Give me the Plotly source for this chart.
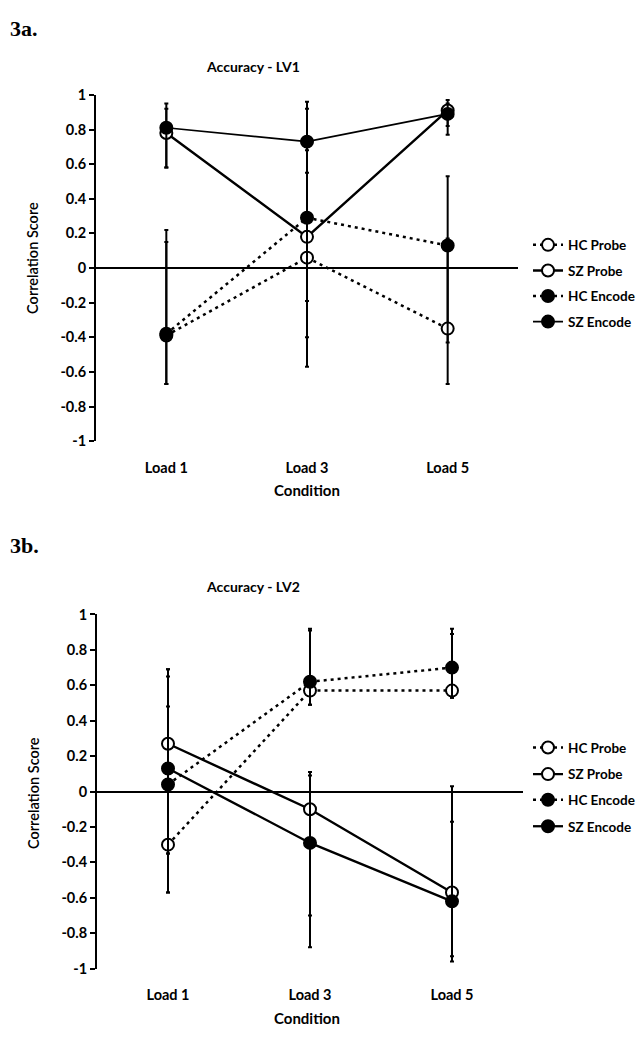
import plotly.graph_objects as go

W, H = 643, 1044

conditions = ["Load 1", "Load 3", "Load 5"]
series_names = ["HC Probe", "SZ Probe", "HC Encode", "SZ Encode"]

# Panel 3a: Accuracy - LV1
lv1_values = {
    "HC Probe":  [-0.39, 0.06, -0.35],
    "SZ Probe":  [0.78, 0.18, 0.91],
    "HC Encode": [-0.38, 0.29, 0.13],
    "SZ Encode": [0.81, 0.73, 0.89],
}
lv1_upper = {
    "HC Probe":  [0.15, 0.09, 0.17],
    "SZ Probe":  [0.92, 0.68, 0.97],
    "HC Encode": [0.22, 0.92, 0.53],
    "SZ Encode": [0.95, 0.96, 0.95],
}
lv1_lower = {
    "HC Probe":  [-0.67, -0.19, -0.43],
    "SZ Probe":  [0.58, -0.40, 0.82],
    "HC Encode": [-0.67, -0.57, -0.67],
    "SZ Encode": [0.58, 0.55, 0.77],
}

# Panel 3b: Accuracy - LV2
lv2_values = {
    "HC Probe":  [-0.30, 0.57, 0.57],
    "SZ Probe":  [0.27, -0.10, -0.57],
    "HC Encode": [0.04, 0.62, 0.70],
    "SZ Encode": [0.13, -0.29, -0.62],
}
lv2_upper = {
    "HC Probe":  [0.48, 0.91, 0.89],
    "SZ Probe":  [0.69, 0.11, 0.03],
    "HC Encode": [0.69, 0.92, 0.92],
    "SZ Encode": [0.65, 0.09, -0.17],
}
lv2_lower = {
    "HC Probe":  [-0.35, 0.49, 0.53],
    "SZ Probe":  [-0.57, -0.70, -0.93],
    "HC Encode": [-0.35, 0.49, 0.53],
    "SZ Encode": [-0.57, -0.88, -0.96],
}

y_tickvals = [1, 0.8, 0.6, 0.4, 0.2, 0, -0.2, -0.4, -0.6, -0.8, -1]
y_ticktext = ["1", "0.8", "0.6", "0.4", "0.2", "0", "-0.2", "-0.4", "-0.6", "-0.8", "-1"]

styles = {
    "HC Probe":  dict(dash="3px,4px", width=2.5, fill="white"),
    "SZ Probe":  dict(dash="solid", width=2.4, fill="white"),
    "HC Encode": dict(dash="3px,4px", width=2.5, fill="black"),
    "SZ Encode": dict(dash="solid", width=1.7, fill="black"),
}

FONT = "Lato"

fig = go.Figure()

panels = [
    dict(vals=lv1_values, up=lv1_upper, lo=lv1_lower, xa="x", ya="y",
         legend_y=[239, 265, 291, 317], leg0=1, sz_enc_w=1.7),
    dict(vals=lv2_values, up=lv2_upper, lo=lv2_lower, xa="x2", ya="y2",
         legend_y=[750, 777, 803, 830], leg0=5, sz_enc_w=2.3),
]

for p in panels:
    for i, name in enumerate(series_names):
        v = p["vals"][name]
        up = [u - a for u, a in zip(p["up"][name], v)]
        lo = [a - l for a, l in zip(v, p["lo"][name])]
        st = styles[name]
        lw = p["sz_enc_w"] if name == "SZ Encode" else st["width"]
        lg = "legend" if p["leg0"] + i == 1 else f"legend{p['leg0'] + i}"
        fig.add_trace(go.Scatter(
            x=conditions, y=v, name=name, mode="lines+markers",
            xaxis=p["xa"], yaxis=p["ya"], legend=lg,
            line=dict(color="black", width=lw, dash=st["dash"]),
            marker=dict(symbol="circle", size=12, color=st["fill"],
                        line=dict(color="black", width=2)),
            error_y=dict(type="data", symmetric=False, array=up, arrayminus=lo,
                         color="black", thickness=2, width=2),
        ))

# domains (pixel based)
top_x = [96 / W, 518 / W]
top_y = [1 - 439.3 / H, 1 - 87.3 / H]
bot_x = [97 / W, 523 / W]
bot_y = [1 - 975.5 / H, 1 - 615.5 / H]

def xaxis(domain, anchor):
    return dict(domain=domain, anchor=anchor, type="category",
                categoryorder="array", categoryarray=conditions,
                range=[-0.5, 2.5], showline=False, showgrid=False,
                zeroline=False, ticks="outside", ticklen=13,
                tickcolor="rgba(0,0,0,0)",
                tickfont=dict(family=FONT, size=14.5, color="black", weight="bold"))

def yaxis(domain, anchor):
    return dict(domain=domain, anchor=anchor, range=[-1, 1],
                tickvals=y_tickvals, ticktext=y_ticktext,
                showline=True, linecolor="black", linewidth=2,
                ticks="outside", ticklen=5, tickwidth=2, tickcolor="black",
                showgrid=False, zeroline=True, zerolinecolor="black",
                zerolinewidth=2,
                tickfont=dict(family=FONT, size=14.5, color="black", weight="bold"))

layout = dict(
    width=W, height=H, plot_bgcolor="white", paper_bgcolor="white",
    margin=dict(l=0, r=0, t=0, b=0), showlegend=True,
    xaxis=xaxis(top_x, "y"), yaxis=yaxis(top_y, "x"),
    xaxis2=xaxis(bot_x, "y2"), yaxis2=yaxis(bot_y, "x2"),
)

legend_font = dict(family=FONT, size=13.5, color="black", weight="bold")
for p in panels:
    for i, yy in enumerate(p["legend_y"]):
        key = "legend" if p["leg0"] + i == 1 else f"legend{p['leg0'] + i}"
        layout[key] = dict(x=528 / W, y=1 - (yy + 1) / H, xanchor="left",
                           yanchor="middle",
                           bgcolor="rgba(0,0,0,0)", borderwidth=0,
                           font=legend_font, itemwidth=30,
                           tracegroupgap=0)

fig.update_layout(**layout)

ann = []
ann.append(dict(text="<b>3a.</b>", x=8 / W, y=1 - 20 / H, xref="paper", yref="paper",
                xanchor="left", yanchor="middle", showarrow=False,
                font=dict(family="Liberation Serif", size=22, color="black")))
ann.append(dict(text="<b>3b.</b>", x=8 / W, y=1 - 545 / H, xref="paper", yref="paper",
                xanchor="left", yanchor="middle", showarrow=False,
                font=dict(family="Liberation Serif", size=22, color="black")))
for title, yy in [("Accuracy - LV1", 58), ("Accuracy - LV2", 587)]:
    ann.append(dict(text=f"<b>{title}</b>", x=253 / W, y=1 - yy / H, xref="paper",
                    yref="paper", xanchor="center", yanchor="middle", showarrow=False,
                    font=dict(family=FONT, size=14, color="black")))
for yy in [489, 1026]:
    ann.append(dict(text="<b>Condition</b>", x=307 / W, y=1 - yy / H, xref="paper",
                    yref="paper", xanchor="center", yanchor="middle", showarrow=False,
                    font=dict(family=FONT, size=15, color="black")))
for yy in [253, 797]:
    ann.append(dict(text="Correlation Score", x=33 / W, y=1 - yy / H, xref="paper",
                    yref="paper", xanchor="center", yanchor="middle", showarrow=False,
                    textangle=-90,
                    font=dict(family=FONT, size=14.5, color="black", weight=600)))
fig.update_layout(annotations=ann)

fig.write_html("out.html", config={"displayModeBar": False},
               post_script="document.body.style.margin='0';")
